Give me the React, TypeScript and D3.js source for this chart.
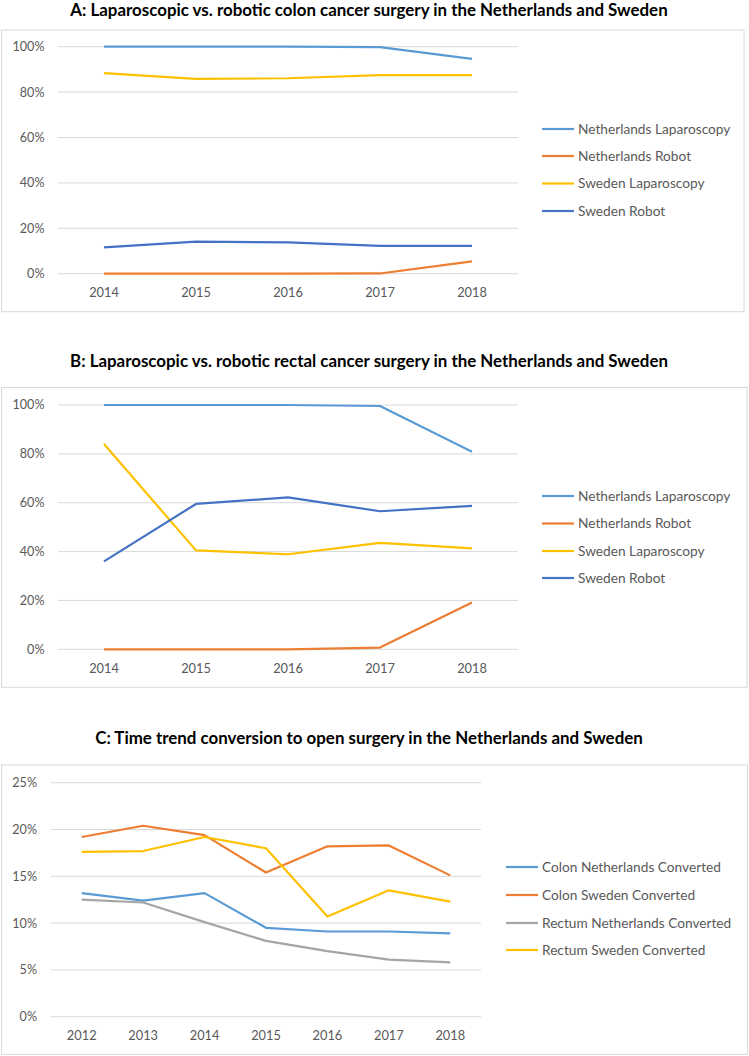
import React from "react";
import * as d3 from "d3";

const yearsAB = ["2014", "2015", "2016", "2017", "2018"];
const yearsC = ["2012", "2013", "2014", "2015", "2016", "2017", "2018"];

const titleA = "A: Laparoscopic vs. robotic colon cancer surgery in the Netherlands and Sweden";
const titleB = "B: Laparoscopic vs. robotic rectal cancer surgery in the Netherlands and Sweden";
const titleC = "C: Time trend conversion to open surgery in the Netherlands and Sweden";

const seriesNamesAB = ["Netherlands Laparoscopy", "Netherlands Robot", "Sweden Laparoscopy", "Sweden Robot"];
const seriesNamesC = ["Colon Netherlands Converted", "Colon Sweden Converted", "Rectum Netherlands Converted", "Rectum Sweden Converted"];

// Panel A (fractions)
const aNlLap = [1.0, 1.0, 1.0, 0.998, 0.946];
const aNlRobot = [0.0, 0.0, 0.0, 0.001, 0.054];
const aSeLap = [0.884, 0.858, 0.861, 0.875, 0.875];
const aSeRobot = [0.116, 0.141, 0.138, 0.123, 0.123];

// Panel B (fractions)
const bNlLap = [1.0, 1.0, 1.0, 0.996, 0.809];
const bNlRobot = [0.0, 0.0, 0.0, 0.007, 0.192];
const bSeLap = [0.84, 0.405, 0.389, 0.436, 0.413];
const bSeRobot = [0.36, 0.595, 0.622, 0.565, 0.587];

// Panel C (fractions)
const cColonNl = [0.132, 0.124, 0.132, 0.095, 0.091, 0.091, 0.089];
const cColonSe = [0.192, 0.204, 0.194, 0.154, 0.182, 0.183, 0.151];
const cRectumNl = [0.125, 0.122, 0.101, 0.081, 0.07, 0.061, 0.058];
const cRectumSe = [0.176, 0.177, 0.192, 0.18, 0.107, 0.135, 0.123];

const ticksAB = [0, 0.2, 0.4, 0.6, 0.8, 1.0];
const ticksC = [0, 0.05, 0.1, 0.15, 0.2, 0.25];

const colorsAB = ["#5B9BD5", "#ED7D31", "#FFC000", "#4472C4"];
const colorsC = ["#5B9BD5", "#ED7D31", "#A5A5A5", "#FFC000"];

const FONT = "Lato, 'Open Sans', sans-serif";
const TEXT = "#595959";
const GRID = "#D9D9D9";

type PanelProps = {
  title: string;
  titleY: number;
  box: { x0: number; y0: number; x1: number; y1: number };
  years: string[];
  xRange: [number, number];
  yDomainMax: number;
  yRange: [number, number];
  ticks: number[];
  series: number[][];
  names: string[];
  colors: string[];
  legend: { lx0: number; lx1: number; tx: number; rows: number[] };
  labelX: number;
};

function Panel(p: PanelProps) {
  const x = d3.scalePoint<string>().domain(p.years).range(p.xRange).padding(0.5);
  const y = d3.scaleLinear().domain([0, p.yDomainMax]).range(p.yRange);
  const fmt = d3.format(".0%");
  const line = d3
    .line<number>()
    .x((_, i) => x(p.years[i]) as number)
    .y((v) => y(v));
  return (
    <g>
      <text
        x={369}
        y={p.titleY}
        textAnchor="middle"
        fontFamily={FONT}
        fontWeight={700}
        fontSize={16.9}
        fill="#000"
      >
        {p.title}
      </text>
      <rect
        x={p.box.x0}
        y={p.box.y0}
        width={p.box.x1 - p.box.x0}
        height={p.box.y1 - p.box.y0}
        fill="#fff"
        stroke={GRID}
        strokeWidth={1}
      />
      {p.ticks.map((t) => (
        <g key={t}>
          <line x1={p.xRange[0]} x2={p.xRange[1]} y1={y(t)} y2={y(t)} stroke={GRID} strokeWidth={1} />
          <text
            x={p.labelX}
            y={y(t)}
            dy="0.35em"
            textAnchor="end"
            fontFamily={FONT}
            fontSize={12.6}
            fill={TEXT}
          >
            {fmt(t)}
          </text>
        </g>
      ))}
      {p.years.map((yr) => (
        <text
          key={yr}
          x={x(yr)}
          y={p.yRange[0] + 19.3}
          dy="0.35em"
          textAnchor="middle"
          fontFamily={FONT}
          fontSize={12.8}
          fill={TEXT}
        >
          {yr}
        </text>
      ))}
      {p.series.map((s, i) => (
        <path key={i} d={line(s) || ""} fill="none" stroke={p.colors[i]} strokeWidth={2.2} strokeLinejoin="round" />
      ))}
      {p.names.map((n, i) => (
        <g key={n}>
          <line
            x1={p.legend.lx0}
            x2={p.legend.lx1}
            y1={p.legend.rows[i]}
            y2={p.legend.rows[i]}
            stroke={p.colors[i]}
            strokeWidth={2.2}
          />
          <text
            x={p.legend.tx}
            y={p.legend.rows[i]}
            dy="0.35em"
            fontFamily={FONT}
            fontSize={13.7}
            fill={TEXT}
          >
            {n}
          </text>
        </g>
      ))}
    </g>
  );
}

export default function App() {
  return (
    <svg
      width={749}
      height={1056}
      style={{ position: "absolute", left: 0, top: 0, background: "#fff" }}
    >
      <rect x={0} y={0} width={749} height={1056} fill="#fff" />
      <Panel
        title={titleA}
        titleY={16}
        box={{ x0: 1.5, y0: 30, x1: 744, y1: 311.7 }}
        years={yearsAB}
        xRange={[58, 518]}
        yDomainMax={1}
        yRange={[273.7, 46.7]}
        ticks={ticksAB}
        series={[aNlLap, aNlRobot, aSeLap, aSeRobot]}
        names={seriesNamesAB}
        colors={colorsAB}
        legend={{ lx0: 542, lx1: 574, tx: 578, rows: [129, 156, 183.5, 211] }}
        labelX={44.5}
      />
      <Panel
        title={titleB}
        titleY={366.5}
        box={{ x0: 1.5, y0: 387.5, x1: 747, y1: 687.3 }}
        years={yearsAB}
        xRange={[58, 518]}
        yDomainMax={1}
        yRange={[649.3, 405]}
        ticks={ticksAB}
        series={[bNlLap, bNlRobot, bSeLap, bSeRobot]}
        names={seriesNamesAB}
        colors={colorsAB}
        legend={{ lx0: 542, lx1: 574, tx: 578, rows: [496, 523.5, 551, 578] }}
        labelX={44.5}
      />
      <Panel
        title={titleC}
        titleY={744}
        box={{ x0: 1.5, y0: 765, x1: 747.5, y1: 1054.3 }}
        years={yearsC}
        xRange={[51, 481]}
        yDomainMax={0.25}
        yRange={[1016.7, 782.7]}
        ticks={ticksC}
        series={[cColonNl, cColonSe, cRectumNl, cRectumSe]}
        names={seriesNamesC}
        colors={colorsC}
        legend={{ lx0: 506, lx1: 538, tx: 542, rows: [867, 895, 923, 950] }}
        labelX={37}
      />
    </svg>
  );
}
